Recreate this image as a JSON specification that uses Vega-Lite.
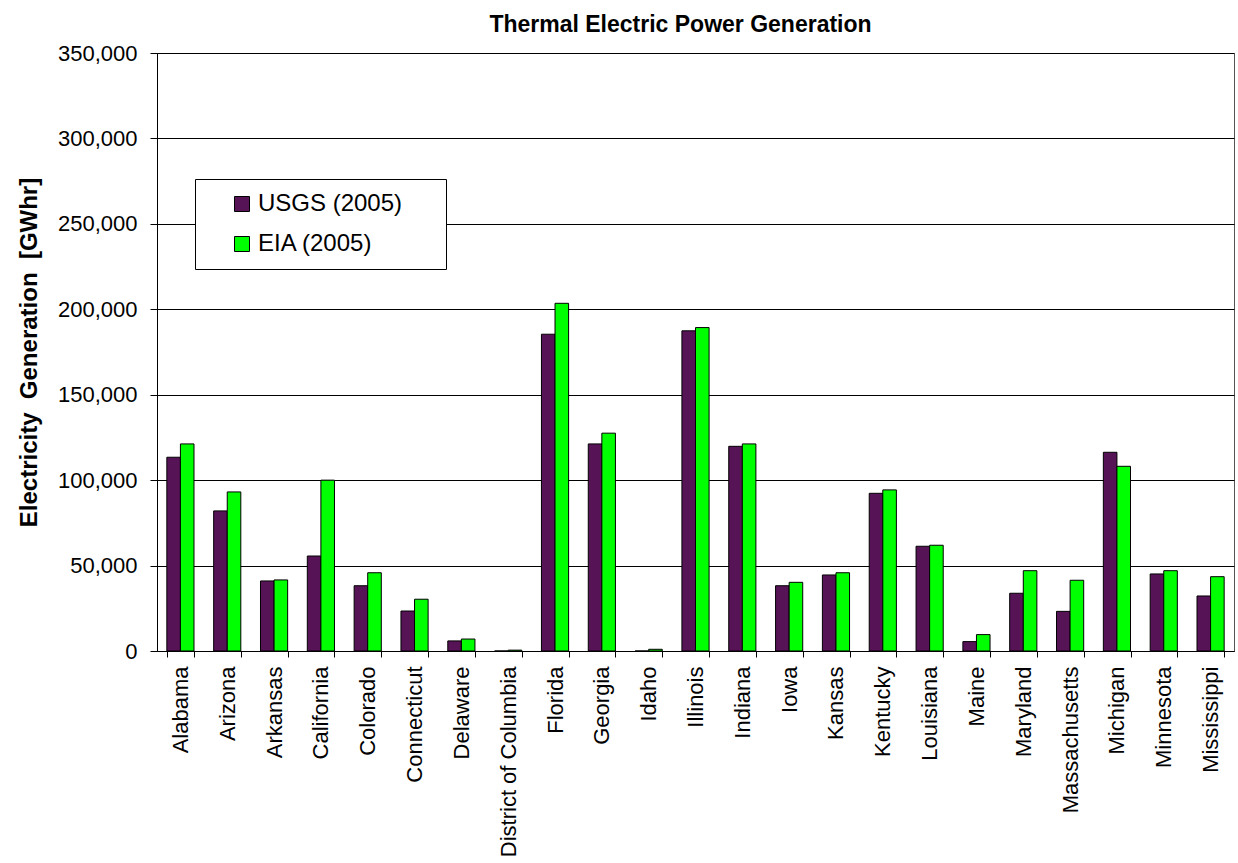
{
  "$schema": "https://vega.github.io/schema/vega-lite/v6.json",
  "width": 1077,
  "height": 598,
  "autosize": {"type": "none"},
  "padding": {"left": 157, "top": 53, "right": 4, "bottom": 212},
  "background": "white",
  "title": {
    "text": "Thermal Electric Power Generation",
    "font": "Liberation Sans",
    "fontSize": 23,
    "fontWeight": "bold",
    "color": "black",
    "anchor": "middle",
    "offset": 5,
    "dx": -15
  },
  "config": {
    "view": {"stroke": "#555555", "strokeWidth": 1},
    "font": "Liberation Sans"
  },
  "data": {
    "values": [
      {"state": "Alabama", "source": "USGS (2005)", "value": 113400},
      {"state": "Alabama", "source": "EIA (2005)", "value": 121200},
      {"state": "Arizona", "source": "USGS (2005)", "value": 82000},
      {"state": "Arizona", "source": "EIA (2005)", "value": 93100},
      {"state": "Arkansas", "source": "USGS (2005)", "value": 41000},
      {"state": "Arkansas", "source": "EIA (2005)", "value": 41600},
      {"state": "California", "source": "USGS (2005)", "value": 55600},
      {"state": "California", "source": "EIA (2005)", "value": 100000},
      {"state": "Colorado", "source": "USGS (2005)", "value": 38200},
      {"state": "Colorado", "source": "EIA (2005)", "value": 45800},
      {"state": "Connecticut", "source": "USGS (2005)", "value": 23400},
      {"state": "Connecticut", "source": "EIA (2005)", "value": 30300},
      {"state": "Delaware", "source": "USGS (2005)", "value": 5900},
      {"state": "Delaware", "source": "EIA (2005)", "value": 7000},
      {"state": "District of Columbia", "source": "USGS (2005)", "value": 0},
      {"state": "District of Columbia", "source": "EIA (2005)", "value": 500},
      {"state": "Florida", "source": "USGS (2005)", "value": 185400},
      {"state": "Florida", "source": "EIA (2005)", "value": 203500},
      {"state": "Georgia", "source": "USGS (2005)", "value": 121200},
      {"state": "Georgia", "source": "EIA (2005)", "value": 127500},
      {"state": "Idaho", "source": "USGS (2005)", "value": 0},
      {"state": "Idaho", "source": "EIA (2005)", "value": 1000},
      {"state": "Illinois", "source": "USGS (2005)", "value": 187400},
      {"state": "Illinois", "source": "EIA (2005)", "value": 189300},
      {"state": "Indiana", "source": "USGS (2005)", "value": 119800},
      {"state": "Indiana", "source": "EIA (2005)", "value": 121200},
      {"state": "Iowa", "source": "USGS (2005)", "value": 38200},
      {"state": "Iowa", "source": "EIA (2005)", "value": 40200},
      {"state": "Kansas", "source": "USGS (2005)", "value": 44500},
      {"state": "Kansas", "source": "EIA (2005)", "value": 45800},
      {"state": "Kentucky", "source": "USGS (2005)", "value": 92300},
      {"state": "Kentucky", "source": "EIA (2005)", "value": 94300},
      {"state": "Louisiana", "source": "USGS (2005)", "value": 61300},
      {"state": "Louisiana", "source": "EIA (2005)", "value": 61900},
      {"state": "Maine", "source": "USGS (2005)", "value": 5500},
      {"state": "Maine", "source": "EIA (2005)", "value": 9600},
      {"state": "Maryland", "source": "USGS (2005)", "value": 33800},
      {"state": "Maryland", "source": "EIA (2005)", "value": 47000},
      {"state": "Massachusetts", "source": "USGS (2005)", "value": 23200},
      {"state": "Massachusetts", "source": "EIA (2005)", "value": 41400},
      {"state": "Michigan", "source": "USGS (2005)", "value": 116300},
      {"state": "Michigan", "source": "EIA (2005)", "value": 108100},
      {"state": "Minnesota", "source": "USGS (2005)", "value": 45100},
      {"state": "Minnesota", "source": "EIA (2005)", "value": 47000},
      {"state": "Mississippi", "source": "USGS (2005)", "value": 32200},
      {"state": "Mississippi", "source": "EIA (2005)", "value": 43500}
    ]
  },
  "mark": {"type": "bar", "stroke": "black", "strokeWidth": 1},
  "encoding": {
    "x": {
      "field": "state",
      "type": "nominal",
      "sort": null,
      "title": null,
      "scale": {"paddingInner": 0.42, "paddingOuter": 0.21},
      "axis": {
        "labelAngle": -90,
        "labelFont": "Liberation Sans",
        "labelFontSize": 22,
        "labelColor": "black",
        "labelPadding": 9,
        "tickBand": "extent",
        "tickSize": 6,
        "tickColor": "black",
        "domainColor": "black",
        "labelLimit": 300
      }
    },
    "xOffset": {
      "field": "source",
      "type": "nominal",
      "sort": ["USGS (2005)", "EIA (2005)"],
      "scale": {"paddingInner": 0, "paddingOuter": 0}
    },
    "y": {
      "field": "value",
      "type": "quantitative",
      "title": "Electricity\u00a0\u00a0Generation\u00a0\u00a0[GWhr]",
      "scale": {"domain": [0, 350000], "nice": false},
      "axis": {
        "values": [0, 50000, 100000, 150000, 200000, 250000, 300000, 350000],
        "format": ",d",
        "labelFont": "Liberation Sans",
        "labelFontSize": 22,
        "labelColor": "black",
        "labelPadding": 13,
        "tickSize": 7,
        "tickColor": "black",
        "domainColor": "black",
        "gridColor": "black",
        "gridOpacity": 1,
        "gridWidth": 1,
        "titleFont": "Liberation Sans",
        "titleFontSize": 24,
        "titleFontWeight": "bold",
        "titleColor": "black",
        "titlePadding": 16
      }
    },
    "color": {
      "field": "source",
      "type": "nominal",
      "sort": ["USGS (2005)", "EIA (2005)"],
      "scale": {"domain": ["USGS (2005)", "EIA (2005)"], "range": ["#561456", "#00ff00"]},
      "legend": {
        "title": "\u00a0",
        "titleFontSize": 2,
        "titleOrient": "right",
        "titlePadding": 31,
        "orient": "none",
        "legendX": 38,
        "legendY": 126,
        "fillColor": "white",
        "strokeColor": "black",
        "padding": 13,
        "symbolType": "square",
        "symbolSize": 225,
        "symbolStrokeColor": "black",
        "symbolStrokeWidth": 1,
        "symbolOffset": 22,
        "labelFont": "Liberation Sans",
        "labelFontSize": 24,
        "labelColor": "black",
        "labelOffset": 4,
        "rowPadding": 16,
        "labelLimit": 300
      }
    }
  }
}
